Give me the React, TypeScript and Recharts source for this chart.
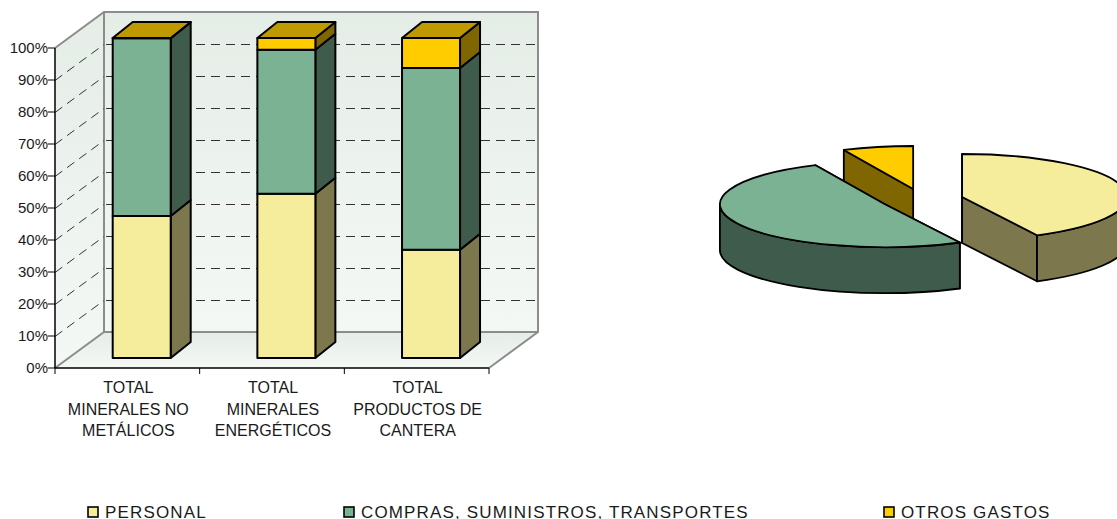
import { BarChart, Bar, XAxis, YAxis, CartesianGrid, PieChart, Pie } from 'recharts';

const categories = ['TOTAL\nMINERALES NO\nMETÁLICOS', 'TOTAL\nMINERALES\nENERGÉTICOS', 'TOTAL\nPRODUCTOS DE\nCANTERA'];
const personal = [44.4, 51.3, 33.8];
const compras = [55.5, 45.0, 56.8];
const otros = [0.1, 3.7, 9.4];
const percentTicks = [0, 10, 20, 30, 40, 50, 60, 70, 80, 90, 100];

const legendNames = ['PERSONAL', 'COMPRAS, SUMINISTROS, TRANSPORTES', 'OTROS GASTOS'];

// pie runs counter-clockwise from 12 o'clock so the back slice gets painted first
const pieNames = ['OTROS GASTOS', 'COMPRAS, SUMINISTROS, TRANSPORTES', 'PERSONAL'];
const pieValues = [6.9, 50.6, 42.5];

const barData = categories.map((name, i) => ({
  name,
  personal: personal[i],
  compras: compras[i],
  otros: otros[i],
}));
const pieData = pieNames.map((name, i) => ({ name, value: pieValues[i] }));

const FACE: Record<string, string> = {
  PERSONAL: '#F5EC9C',
  'COMPRAS, SUMINISTROS, TRANSPORTES': '#7CB294',
  'OTROS GASTOS': '#FFCC00',
};
const SIDE: Record<string, string> = {
  PERSONAL: '#7C774C',
  'COMPRAS, SUMINISTROS, TRANSPORTES': '#3F5B4C',
  'OTROS GASTOS': '#806600',
};
const TOP_FACE = '#BF9900';

const FONT = '"Liberation Sans", Arial, sans-serif';
const TEXT = '#1a1a1a';

// front plane of the 3D box
const LEFT = 55;
const RIGHT = 489;
const TOP = 48;
const BOTTOM = 368;
const DEPTH_X = 49;
const DEPTH_Y = 36;
const WALL = '#8C8C8C';

// bar placement inside the box
const BAR_W = 58;
const BAR_SHIFT_X = 14.7;
const BAR_SHIFT_Y = -10;
const BAR_DX = 20;
const BAR_DY = 16;

// pie tilt
const PIE_RX = 165;
const PIE_RY = 43;
const PIE_DEPTH = 46;
const EXPLODE = 0.25;

function pts(list: number[][]) {
  return list.map((p) => p.join(',')).join(' ');
}

function Walls() {
  const l = LEFT;
  const r = RIGHT;
  const bl = LEFT + DEPTH_X;
  const br = RIGHT + DEPTH_X;
  const bt = TOP - DEPTH_Y;
  const bb = BOTTOM - DEPTH_Y;
  return (
    <g>
      <defs>
        <linearGradient id="wallFill" x1="0" y1="0" x2="0" y2="1">
          <stop offset="0%" stopColor="#E5EDE7" />
          <stop offset="100%" stopColor="#F4F8F5" />
        </linearGradient>
        <linearGradient id="floorFill" x1="0" y1="0" x2="0" y2="1">
          <stop offset="0%" stopColor="#E5ECE7" />
          <stop offset="100%" stopColor="#F5F8F5" />
        </linearGradient>
      </defs>
      <polygon points={pts([[l, TOP], [bl, bt], [bl, bb], [l, BOTTOM]])} fill="url(#wallFill)" />
      <rect x={bl} y={bt} width={br - bl} height={bb - bt} fill="url(#wallFill)" />
      <polygon points={pts([[l, BOTTOM], [bl, bb], [br, bb], [r, BOTTOM]])} fill="url(#floorFill)" />
      <g fill="none" stroke={WALL} strokeWidth={2}>
        <polyline points={pts([[l, TOP], [bl, bt], [br, bt], [br, bb], [r, BOTTOM]])} />
        <polyline points={pts([[bl, bt], [bl, bb], [br, bb]])} />
        <line x1={l} y1={BOTTOM} x2={bl} y2={bb} />
      </g>
    </g>
  );
}

// walls go in with the first grid line, so everything else stacks over them
function gridLine(props: any) {
  const { y1, index } = props;
  const inner = y1 > TOP + 1 && y1 < BOTTOM - 1;
  const y = y1 + 0.5;
  return (
    <g key={`grid-${index}`}>
      {index === 0 && <Walls />}
      {inner && (
        <g stroke="#333" strokeWidth={1} strokeDasharray="9 6">
          <line x1={LEFT} y1={y} x2={LEFT + DEPTH_X} y2={y - DEPTH_Y} />
          <line x1={LEFT + DEPTH_X} y1={y - DEPTH_Y} x2={RIGHT + DEPTH_X} y2={y - DEPTH_Y} strokeDashoffset={-2} />
        </g>
      )}
    </g>
  );
}

function barShape(name: string, withTop: boolean) {
  return function Shape3D(props: any) {
    const x = props.x + BAR_SHIFT_X;
    const y = props.y + BAR_SHIFT_Y;
    const w = props.width;
    const h = props.height;
    return (
      <g stroke="#000" strokeWidth={2} strokeLinejoin="round">
        <polygon
          points={pts([[x + w, y], [x + w + BAR_DX, y - BAR_DY], [x + w + BAR_DX, y + h - BAR_DY], [x + w, y + h]])}
          fill={SIDE[name]}
        />
        {withTop && (
          <polygon
            points={pts([[x, y], [x + BAR_DX, y - BAR_DY], [x + w + BAR_DX, y - BAR_DY], [x + w, y]])}
            fill={TOP_FACE}
          />
        )}
        <rect x={x} y={y} width={w} height={h} fill={FACE[name]} />
      </g>
    );
  };
}

function CategoryTick(props: any) {
  const { x, y, payload, index } = props;
  const band = (RIGHT - LEFT) / categories.length;
  const lines = String(payload.value).split('\n');
  return (
    <g>
      <line x1={x - band / 2} y1={y} x2={x - band / 2} y2={y + 6} stroke="#000" />
      {index === categories.length - 1 && (
        <line x1={x + band / 2} y1={y} x2={x + band / 2} y2={y + 6} stroke="#000" />
      )}
      {lines.map((line, i) => (
        <text key={i} x={x + 1} y={y + 25 + i * 21.7} textAnchor="middle" fontFamily={FONT} fontSize={16} fill={TEXT}>
          {line}
        </text>
      ))}
    </g>
  );
}

function rad(a: number) {
  return (a * Math.PI) / 180;
}

function Slice3D(props: any) {
  const { cx, cy, startAngle, endAngle, name } = props;
  const mid = (startAngle + endAngle) / 2;
  const ox = cx + EXPLODE * PIE_RX * Math.cos(rad(mid));
  const oy = cy - EXPLODE * PIE_RY * Math.sin(rad(mid));
  const at = (a: number, drop = 0) => [ox + PIE_RX * Math.cos(rad(a)), oy - PIE_RY * Math.sin(rad(a)) + drop];
  const large = endAngle - startAngle > 180 ? 1 : 0;
  const [sx, sy] = at(startAngle);
  const [ex, ey] = at(endAngle);

  // front half of the rim is 180..360 (and 540..720 once past a full turn)
  const walls: string[] = [];
  [
    [180, 360],
    [540, 720],
  ].forEach(([lo, hi]) => {
    const a0 = Math.max(startAngle, lo);
    const a1 = Math.min(endAngle, hi);
    if (a1 <= a0) return;
    const [x0, y0] = at(a0);
    const [x1, y1] = at(a1);
    walls.push(
      `M${x0},${y0} A${PIE_RX},${PIE_RY} 0 0 0 ${x1},${y1} L${x1},${y1 + PIE_DEPTH} A${PIE_RX},${PIE_RY} 0 0 1 ${x0},${y0 + PIE_DEPTH} Z`
    );
  });

  const radial = (px: number, py: number) =>
    `M${ox},${oy} L${px},${py} L${px},${py + PIE_DEPTH} L${ox},${oy + PIE_DEPTH} Z`;

  return (
    <g stroke="#000" strokeWidth={1.8} strokeLinejoin="round">
      <path d={radial(sx, sy)} fill={SIDE[name]} />
      <path d={radial(ex, ey)} fill={SIDE[name]} />
      {walls.map((d, i) => (
        <path key={i} d={d} fill={SIDE[name]} />
      ))}
      <path d={`M${ox},${oy} L${sx},${sy} A${PIE_RX},${PIE_RY} 0 ${large} 0 ${ex},${ey} Z`} fill={FACE[name]} />
    </g>
  );
}

const legendBoxX = [88, 344, 884];

function ChartLegend() {
  return (
    <svg width={1117} height={519} style={{ position: 'absolute', left: 0, top: 0, pointerEvents: 'none' }}>
      {legendNames.map((name, i) => (
        <g key={name}>
          <rect x={legendBoxX[i]} y={507} width={10} height={10} fill={FACE[name]} stroke="#000" strokeWidth={1.6} />
          <text x={legendBoxX[i] + 17} y={518} fontFamily={FONT} fontSize={17} letterSpacing={1.15} fill={TEXT}>
            {name}
          </text>
        </g>
      ))}
    </svg>
  );
}

export default function App() {
  return (
    <div style={{ position: 'absolute', left: 0, top: 0, width: 1117, height: 519, overflow: 'hidden', background: '#fff' }}>
      <div style={{ position: 'absolute', left: 0, top: 0 }}>
        <BarChart
          width={1117}
          height={519}
          data={barData}
          margin={{ top: TOP, right: 1117 - RIGHT, bottom: 0, left: 0 }}
          barSize={BAR_W}
        >
          <CartesianGrid vertical={false} horizontal={gridLine} />
          <XAxis
            dataKey="name"
            height={519 - BOTTOM}
            interval={0}
            tickLine={false}
            tickSize={0}
            tickMargin={0}
            axisLine={{ stroke: '#000', strokeWidth: 1.5 }}
            tick={CategoryTick}
          />
          <YAxis
            width={LEFT}
            domain={[0, 100]}
            ticks={percentTicks}
            interval={0}
            tickSize={7}
            tickMargin={0}
            tickFormatter={(v) => `${v}%`}
            axisLine={{ stroke: '#000', strokeWidth: 1.5 }}
            tickLine={{ stroke: '#000' }}
            tick={{ fontFamily: FONT, fontSize: 15, fill: TEXT }}
          />
          <Bar dataKey="personal" stackId="a" isAnimationActive={false} shape={barShape('PERSONAL', false)} />
          <Bar
            dataKey="compras"
            stackId="a"
            isAnimationActive={false}
            shape={barShape('COMPRAS, SUMINISTROS, TRANSPORTES', false)}
          />
          <Bar dataKey="otros" stackId="a" isAnimationActive={false} shape={barShape('OTROS GASTOS', true)} />
        </BarChart>
      </div>
      <div style={{ position: 'absolute', left: 0, top: 0 }}>
        <PieChart width={1117} height={519} margin={{ top: 0, right: 0, bottom: 0, left: 0 }}>
          <Pie
            data={pieData}
            dataKey="value"
            nameKey="name"
            cx={922}
            cy={199.5}
            innerRadius={0}
            outerRadius={PIE_RX}
            startAngle={90}
            endAngle={450}
            isAnimationActive={false}
            shape={Slice3D}
          />
        </PieChart>
      </div>
      <ChartLegend />
    </div>
  );
}
